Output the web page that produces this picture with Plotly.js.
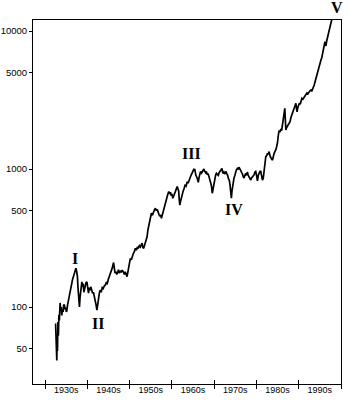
<!DOCTYPE html>
<html><head><meta charset="utf-8">
<script src="https://cdn.plot.ly/plotly-3.0.1.min.js"></script>
<style>html,body{margin:0;padding:0;background:#fff;}#chart{width:349px;height:400px;}</style>
</head><body><div id="chart"></div>
<script>
// Time positions as read along the picture's decade axis
const years = [
1932.49,1932.61,1932.68,1932.78,1932.85,1932.94,1933.04,1933.16,1933.27,1933.39,
1933.56,1933.70,1933.84,1933.96,1934.11,1934.27,1934.41,1934.58,1934.75,1934.89,
1935.03,1935.15,1935.34,1935.53,1935.74,1935.93,1936.12,1936.31,1936.50,1936.72,
1936.88,1937.07,1937.29,1937.45,1937.66,1937.78,1937.90,1938.02,1938.14,1938.28,
1938.42,1938.57,1938.71,1938.88,1939.02,1939.18,1939.33,1939.49,1939.68,1939.90,
1940.09,1940.28,1940.44,1940.63,1940.82,1941.08,1941.25,1941.44,1941.70,1941.87,
1942.05,1942.27,1942.46,1942.65,1942.84,1943.05,1943.29,1943.53,1943.76,1944.00,
1944.24,1944.48,1944.71,1944.95,1945.19,1945.42,1945.66,1945.90,1946.21,1946.37,
1946.56,1946.78,1946.97,1947.16,1947.37,1947.56,1947.80,1948.03,1948.27,1948.51,
1948.75,1948.98,1949.22,1949.39,1949.58,1949.77,1949.98,1950.17,1950.41,1950.65,
1950.88,1951.12,1951.36,1951.59,1951.83,1952.07,1952.31,1952.54,1952.78,1952.95,
1953.14,1953.33,1953.54,1953.73,1953.97,1954.13,1954.32,1954.51,1954.73,1954.92,
1955.15,1955.39,1955.63,1955.87,1956.10,1956.34,1956.53,1956.74,1956.93,1957.12,
1957.34,1957.53,1957.76,1958.00,1958.24,1958.48,1958.71,1959.00,1959.26,1959.47,
1959.66,1959.85,1960.02,1960.21,1960.37,1960.61,1960.85,1961.09,1961.25,1961.44,
1961.61,1961.75,1961.87,1962.04,1962.23,1962.44,1962.65,1962.87,1963.10,1963.34,
1963.63,1963.82,1964.05,1964.29,1964.53,1964.81,1965.00,1965.19,1965.43,1965.67,
1966.00,1966.24,1966.43,1966.62,1966.78,1967.02,1967.19,1967.37,1967.56,1967.78,
1967.97,1968.16,1968.37,1968.56,1968.75,1968.96,1969.15,1969.34,1969.56,1969.75,
1969.94,1970.18,1970.34,1970.53,1970.74,1970.98,1971.17,1971.36,1971.60,1971.84,
1972.07,1972.31,1972.55,1972.76,1972.95,1973.19,1973.38,1973.57,1973.76,1973.90,
1974.07,1974.21,1974.35,1974.52,1974.68,1974.90,1975.09,1975.28,1975.49,1975.68,
1975.87,1976.08,1976.27,1976.46,1976.68,1976.87,1977.06,1977.27,1977.46,1977.65,
1977.86,1978.05,1978.24,1978.46,1978.65,1978.84,1979.05,1979.24,1979.43,1979.64,
1979.83,1980.02,1980.24,1980.43,1980.62,1980.83,1981.02,1981.21,1981.42,1981.61,
1981.80,1982.02,1982.21,1982.44,1982.61,1982.80,1982.99,1983.20,1983.39,1983.58,
1983.80,1983.99,1984.18,1984.39,1984.58,1984.77,1984.98,1985.17,1985.36,1985.58,
1985.77,1985.96,1986.17,1986.36,1986.55,1986.71,1986.83,1986.95,1987.14,1987.36,
1987.55,1987.74,1987.95,1988.14,1988.33,1988.54,1988.73,1988.92,1989.14,1989.33,
1989.47,1989.61,1989.80,1989.99,1990.18,1990.35,1990.51,1990.75,1990.99,1991.30,
1991.51,1991.70,1991.94,1992.17,1992.48,1992.69,1992.88,1993.07,1993.29,1993.48,
1993.67,1993.88,1994.07,1994.26,1994.48,1994.67,1994.85,1995.07,1995.26,1995.45,
1995.66,1995.85,1996.04,1996.21,1996.33,1996.44,1996.63,1996.85,1997.04,1997.23,
1997.44,1997.63,1997.87
];
const values = [
76,52,70,41,58,48,78,62,88,80,
107,95,100,87,96,92,104,103,96,99,
92,94,104,112,120,126,140,148,158,166,
172,182,191,183,166,140,118,126,100,118,
130,145,152,140,148,128,133,145,150,152,
140,126,138,132,140,133,126,128,119,112,
104,95,108,118,126,133,128,138,136,142,
144,150,148,158,165,175,180,192,210,195,
176,180,172,178,186,176,183,178,185,180,
172,180,168,166,178,190,205,225,220,236,
244,252,266,258,270,268,278,272,281,290,
270,266,280,295,310,323,360,390,420,455,
478,462,490,505,519,500,510,478,470,455,
465,440,470,510,545,580,610,650,686,660,
680,640,660,614,630,660,690,720,745,720,
690,600,548,580,620,648,690,720,760,750,
809,790,840,860,900,931,960,995,990,900,
857,800,870,930,960,935,960,990,1000,960,
940,960,906,930,880,860,810,760,667,720,
800,880,900,930,910,900,940,960,990,1010,
930,950,920,960,930,900,850,830,760,700,
614,690,760,810,857,900,960,990,1010,990,
1030,1000,985,940,920,880,860,900,931,900,
950,900,870,850,832,860,880,900,906,950,
960,900,820,900,931,960,960,900,830,857,
960,1100,1228,1250,1300,1280,1337,1250,1200,1180,
1161,1250,1300,1340,1374,1450,1550,1750,1900,1850,
1950,1900,2085,2300,2550,2755,2300,1919,2000,2050,
2100,2144,2200,2350,2450,2535,2650,2750,2850,2995,
2750,2600,2800,2950,3000,2950,3162,3250,3200,3300,
3400,3436,3550,3500,3650,3700,3730,3650,3800,3900,
4064,4300,4550,4800,4936,5300,5700,5900,6160,6400,
6880,7400,7900,8370,7900,7800,8500,9090,9600,10200,
10900,11500,12300
];
const decadeLabels = ['1930s','1940s','1950s','1960s','1970s','1980s','1990s'];
const decadeCenters = [1935,1945,1955,1965,1975,1985,1995];
const decadeBounds = [1930,1940,1950,1960,1970,1980,1990,2000];
const yTickVals = [50,100,500,1000,5000,10000];
const yTickText = ['50','100','500','1000','5000','10000'];
const waveLabels = ['I','II','III','IV','V'];
const waveX = [1937.1,1942.5,1964.65,1974.68,1999.05];
const waveY = [226,75.4,1306,513,14690];

const xr = [1927.15, 2000];
const yr = [1.442, 4.0797];

const traces = [
  {x: years, y: values, type: 'scatter', mode: 'lines',
   line: {color: '#000', width: 1.7}, cliponaxis: false, hoverinfo: 'skip'},
  {x: [], y: [], xaxis: 'x2', yaxis: 'y', type: 'scatter', mode: 'lines', showlegend: false},
  {x: [], y: [], xaxis: 'x3', yaxis: 'y', type: 'scatter', mode: 'lines', showlegend: false}
];

const annotations = waveLabels.map((t, i) => {
  const a = {text: t, x: waveX[i], xref: 'x', showarrow: false,
    font: {family: 'Liberation Serif, Times New Roman, serif', size: 16, color: '#000', weight: 'bold'},
    xanchor: 'center', yanchor: 'middle'};
  const lv = Math.log10(waveY[i]);
  if (lv > yr[1]) { a.yref = 'paper'; a.y = 1 + (lv - yr[1]) / (yr[1] - yr[0]); }
  else { a.yref = 'y'; a.y = lv; }
  return a;
});

const axFont = {family: 'Liberation Sans, Arial, sans-serif', size: 9, color: '#000'};

const layout = {
  width: 349, height: 400,
  margin: {l: 33, r: 8, t: 20, b: 16, pad: 0},
  paper_bgcolor: '#fff', plot_bgcolor: '#fff',
  showlegend: false,
  xaxis: {range: xr, tickvals: decadeCenters, ticktext: decadeLabels, ticks: '',
    ticklabelstandoff: -3,
    showline: true, linecolor: '#000', linewidth: 1, mirror: true,
    showgrid: false, zeroline: false, tickfont: axFont, fixedrange: true},
  xaxis2: {range: xr, overlaying: 'x', anchor: 'y', side: 'bottom',
    tickvals: decadeBounds, ticks: 'outside', ticklen: 4, tickwidth: 1, tickcolor: '#000',
    showticklabels: false, showline: false, showgrid: false, zeroline: false},
  xaxis3: {range: xr, overlaying: 'x', anchor: 'y', side: 'bottom',
    tickvals: decadeBounds, ticks: 'inside', ticklen: 4, tickwidth: 1, tickcolor: '#000',
    showticklabels: false, showline: false, showgrid: false, zeroline: false},
  yaxis: {type: 'log', range: yr, tickvals: yTickVals, ticktext: yTickText,
    ticks: 'outside', ticklen: 3, tickwidth: 1, tickcolor: '#000',
    showline: true, linecolor: '#000', linewidth: 1, mirror: true,
    showgrid: false, zeroline: false, tickfont: Object.assign({}, axFont, {size: 9.5}), fixedrange: true},
  annotations: annotations
};

Plotly.newPlot('chart', traces, layout, {staticPlot: true, displayModeBar: false});
</script>
</body></html>
